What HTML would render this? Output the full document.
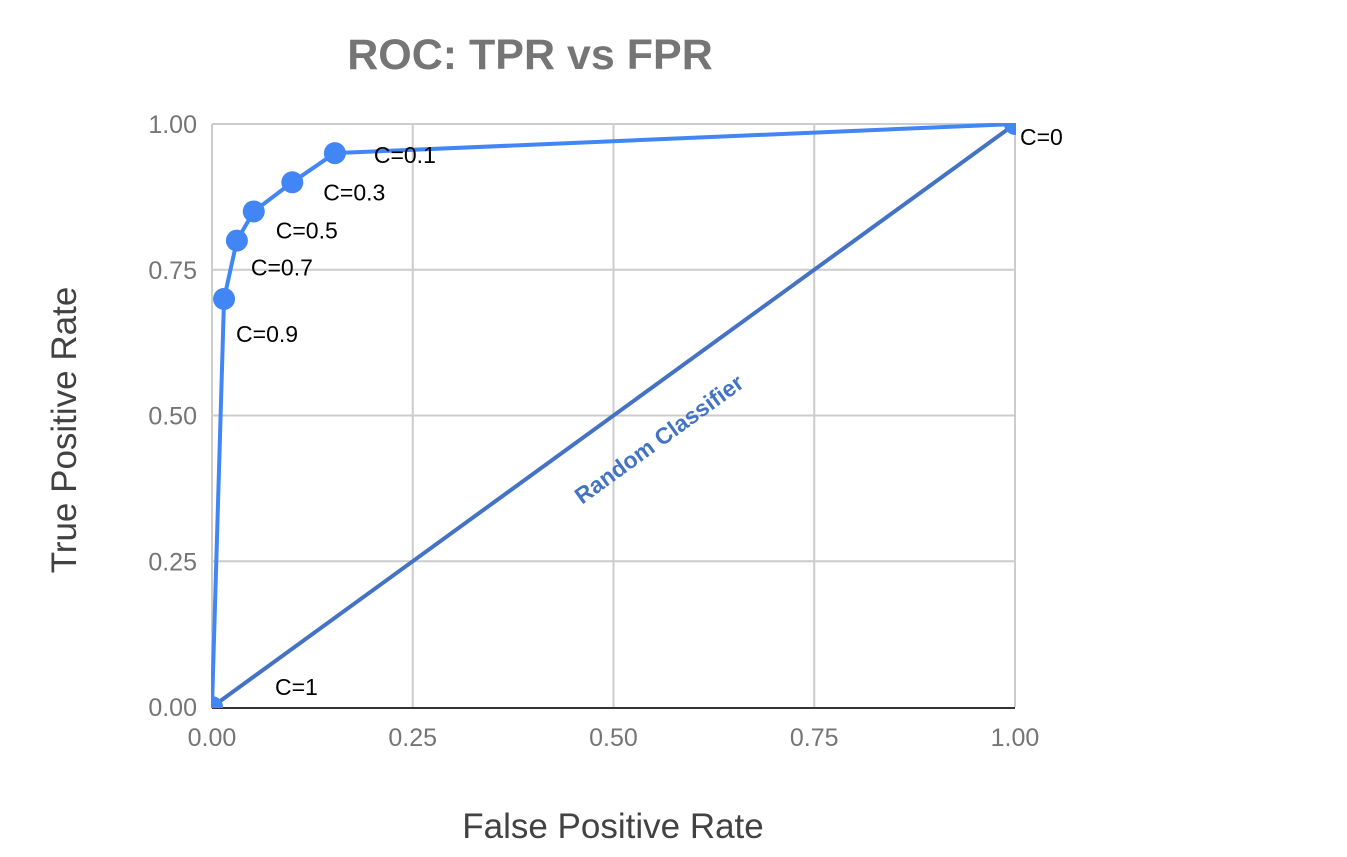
<!DOCTYPE html>
<html><head><meta charset="utf-8"><style>
html,body{margin:0;padding:0;background:#fff;}
svg{display:block;}
</style></head><body>
<svg id="chart" width="1347" height="857" viewBox="0 0 1347 857" xmlns="http://www.w3.org/2000/svg">
<defs><clipPath id="plotclip"><rect x="211" y="123" width="805" height="585"/></clipPath></defs>
<text x="530" y="69" text-anchor="middle" font-family="Liberation Sans, sans-serif" font-weight="bold" font-size="43" fill="#757575">ROC: TPR vs FPR</text>
<g id="grid"></g>
<g id="ticks"></g>
<text x="613" y="838" text-anchor="middle" font-family="Liberation Sans, sans-serif" font-size="35" fill="#424242">False Positive Rate</text>
<text transform="translate(76,430) rotate(-90)" text-anchor="middle" font-family="Liberation Sans, sans-serif" font-size="35" fill="#424242">True Positive Rate</text>
<g id="series" clip-path="url(#plotclip)"></g>
<g id="labels"></g>
</svg>
<script>
const fprValues = [0, 0.015, 0.031, 0.052, 0.1, 0.153, 1];
const tprValues = [0, 0.70, 0.80, 0.85, 0.90, 0.95, 1];
const thresholdLabels = ["C=1","C=0.9","C=0.7","C=0.5","C=0.3","C=0.1","C=0"];
const tickValues = [0, 0.25, 0.5, 0.75, 1];
const tickLabels = ["0.00","0.25","0.50","0.75","1.00"];
const randomX = [0, 1];
const randomY = [0, 1];

const X0=212, X1=1015, Y0=707, Y1=124;
const sx = v => X0 + v*(X1-X0);
const sy = v => Y0 - v*(Y0-Y1);
const NS="http://www.w3.org/2000/svg";
function mk(tag, attrs, parent){const e=document.createElementNS(NS,tag);for(const k in attrs)e.setAttribute(k,attrs[k]);parent.appendChild(e);return e;}
const grid=document.getElementById('grid'), ticks=document.getElementById('ticks'), series=document.getElementById('series'), labels=document.getElementById('labels');
tickValues.forEach((t,i)=>{
  const vl=mk('line',{x1:sx(t),x2:sx(t),y1:Y1,y2:Y0,stroke:'#cccccc','stroke-width':2},grid);
  
  
  if(i>0){const hl=mk('line',{x1:X0,x2:X1,y1:sy(t),y2:sy(t),stroke:'#cccccc','stroke-width':2},grid);
  
  }
  const xt=mk('text',{x:sx(t),y:746,'text-anchor':'middle','font-family':'Liberation Sans, sans-serif','font-size':25,fill:'#757575'},ticks);
  xt.textContent=tickLabels[i];
  
  
  const yt=mk('text',{x:197,y:sy(t)+9,'text-anchor':'end','font-family':'Liberation Sans, sans-serif','font-size':25,fill:'#757575'},ticks);
  yt.textContent=tickLabels[i];
  
  
});
const base=mk('line',{x1:X0,x2:X1,y1:Y0+1,y2:Y0+1,stroke:'#333','stroke-width':2},grid);


const rl=mk('line',{x1:sx(randomX[0]),y1:sy(randomY[0]),x2:sx(randomX[1]),y2:sy(randomY[1]),stroke:'#4472c4','stroke-width':4},series);


const ang=Math.atan2(sy(randomY[1])-sy(randomY[0]),sx(randomX[1])-sx(randomX[0]))*180/Math.PI;
const rt=mk('text',{x:0,y:0,transform:`translate(${sx(0.55)+10},${sy(0.5)+30}) rotate(${ang})`,'text-anchor':'middle','font-family':'Liberation Sans, sans-serif','font-weight':'bold','font-size':23,fill:'#4472c4'},labels);
rt.textContent='Random Classifier';


const pts=fprValues.map((v,i)=>sx(v)+','+sy(tprValues[i])).join(' ');
const pl=mk('polyline',{points:pts,fill:'none',stroke:'#4285f4','stroke-width':4},series);


const offs=[[63,-12],[12,43],[14,35],[22,27],[31,18],[39,10],[5,21]];
fprValues.forEach((v,i)=>{
  const c=mk('circle',{cx:sx(v),cy:sy(tprValues[i]),r:11,fill:'#4285f4'},series);
  
  
  const t=mk('text',{x:sx(v)+offs[i][0],y:sy(tprValues[i])+offs[i][1],'font-family':'Liberation Sans, sans-serif','font-size':23,fill:'#000'},labels);
  t.textContent=thresholdLabels[i];
  
  
});
</script>
</body></html>
